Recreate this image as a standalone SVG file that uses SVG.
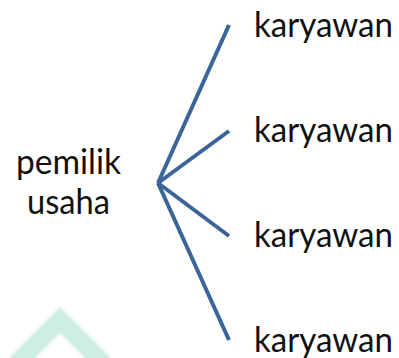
<svg xmlns="http://www.w3.org/2000/svg" width="399" height="358" viewBox="0 0 399 358">
  <defs>
    <style>
      .label { font-family: Lato, "Open Sans", "Liberation Sans", sans-serif; font-size: 34px; fill: #111111; }
      .link { stroke: #3B6598; stroke-width: 4; stroke-linecap: butt; fill: none; }
      .mark { fill: #cdeee2; }
    </style>
    <filter id="soft" x="-10%" y="-10%" width="120%" height="120%">
      <feGaussianBlur stdDeviation="0.8"/>
    </filter>
  </defs>
  <rect width="399" height="358" fill="#ffffff"/>

  <!-- faint chevron in the lower left corner -->
  <polygon class="mark" filter="url(#soft)" points="60,307 112,359 86,359 60,333 34,359 8,359"/>

  <g id="connectors">
    <line class="link" x1="158" y1="183" x2="229" y2="25"/>
    <line class="link" x1="158" y1="183" x2="229" y2="131"/>
    <line class="link" x1="158" y1="183" x2="229" y2="236"/>
    <line class="link" x1="158" y1="183" x2="229" y2="340"/>
  </g>

  <g id="owner">
    <text class="label" x="68.5" y="174" text-anchor="middle" textLength="105" lengthAdjust="spacingAndGlyphs">pemilik</text>
    <text class="label" x="68.5" y="214" text-anchor="middle" textLength="83" lengthAdjust="spacingAndGlyphs">usaha</text>
  </g>
  <g id="employee1">
    <text class="label" x="254" y="37" textLength="139" lengthAdjust="spacingAndGlyphs">karyawan</text>
  </g>
  <g id="employee2">
    <text class="label" x="254" y="142" textLength="139" lengthAdjust="spacingAndGlyphs">karyawan</text>
  </g>
  <g id="employee3">
    <text class="label" x="254" y="247" textLength="139" lengthAdjust="spacingAndGlyphs">karyawan</text>
  </g>
  <g id="employee4">
    <text class="label" x="254" y="352" textLength="139" lengthAdjust="spacingAndGlyphs">karyawan</text>
  </g>
</svg>
